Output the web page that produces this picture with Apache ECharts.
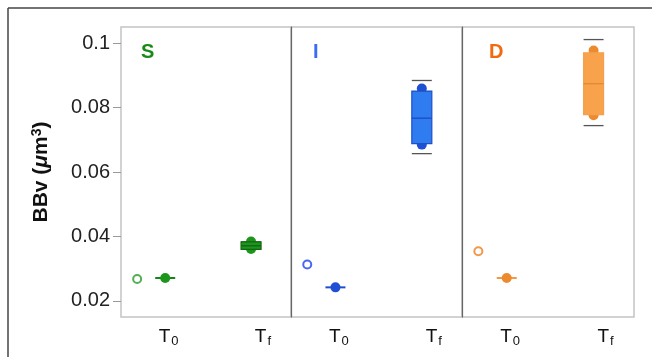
<!DOCTYPE html>
<html>
<head>
<meta charset="utf-8">
<script src="https://cdn.jsdelivr.net/npm/echarts@6/dist/echarts.min.js"></script>
<style>html,body{margin:0;padding:0;background:#fff}#c{width:652px;height:357px}</style>
</head>
<body>
<div id="c"></div>
<script>
// ---- data ----
const panels = ['S', 'I', 'D'];
const xCategories = ['T0', 'Tf'];
const yTicks = [0.02, 0.04, 0.06, 0.08, 0.1];
const openCircleValues = [0.0268, 0.0313, 0.0354];
const t0Values = [0.0271, 0.0242, 0.0271];
// Tf boxes: [low, q1, median, q3, high]
const tfS = [0.0360, 0.0360, 0.0371, 0.0383, 0.0383];
const tfI = [0.0657, 0.0688, 0.0767, 0.0851, 0.0884];
const tfD = [0.0744, 0.0778, 0.0874, 0.0970, 0.1011];
const tfDotsS = [0.0361, 0.0384];
const tfDotsI = [0.0685, 0.0859];
const tfDotsD = [0.0776, 0.0977];

const tfBoxes = [tfS, tfI, tfD];
const tfDots = [tfDotsS, tfDotsI, tfDotsD];

// ---- styles ----
const pal = [
  {label: '#178a17', fill: '#1f921f', border: '#0f6a0f', median: '#0f6a0f', dot: '#1b961b', open: '#2a9a2a', line: '#16861a'},
  {label: '#3c6cf2', fill: '#2f7cf0', border: '#1d4fc6', median: '#1d4fc6', dot: '#1f50d4', open: '#1e3ef0', line: '#1f4fcc'},
  {label: '#f26a10', fill: '#f9a24c', border: '#f2a052', median: '#e38a34', dot: '#ec8b2e', open: '#f07d1e', line: '#ee9a48'}
];
const X_OPEN = 0.095, X_T0 = 0.26, X_TF = 0.765;
const LABEL_POS = [0.28, 0.835];
const grids = [
  {left: 121, width: 170, top: 27, bottom: 40},
  {left: 291, width: 171, top: 27, bottom: 40},
  {left: 462, width: 172, top: 27, bottom: 40}
];
const Y_MIN = 0.015, Y_MAX = 0.105;
const FONT = '"Liberation Sans", Arial, sans-serif';

function renderBox(colors) {
  return function (params, api) {
    const x = api.value(0);
    const lo = api.coord([x, api.value(1)]);
    const q1 = api.coord([x, api.value(2)]);
    const md = api.coord([x, api.value(3)]);
    const q3 = api.coord([x, api.value(4)]);
    const hi = api.coord([x, api.value(5)]);
    const hw = 10;
    const cx = lo[0];
    const collapsed = Math.abs(q1[1] - q3[1]) < 0.5;
    const children = [];
    if (!collapsed) {
      children.push({type: 'line', shape: {x1: cx - hw, y1: lo[1], x2: cx + hw, y2: lo[1]}, style: {stroke: '#555', lineWidth: 1.3}});
      children.push({type: 'line', shape: {x1: cx - hw, y1: hi[1], x2: cx + hw, y2: hi[1]}, style: {stroke: '#555', lineWidth: 1.3}});
      children.push({type: 'rect', shape: {x: cx - hw, y: q3[1], width: 2 * hw, height: q1[1] - q3[1]}, style: {fill: colors.fill, stroke: colors.border, lineWidth: 1.2}});
      children.push({type: 'line', shape: {x1: cx - hw, y1: md[1], x2: cx + hw, y2: md[1]}, style: {stroke: colors.median, lineWidth: 1.4}});
    } else {
      children.push({type: 'line', shape: {x1: cx - hw, y1: md[1], x2: cx + hw, y2: md[1]}, style: {stroke: colors.line, lineWidth: 2}});
    }
    return {type: 'group', children: children};
  };
}

const sub = {t: {fontSize: 19, color: '#111', fontFamily: FONT}, s: {fontSize: 13, color: '#111', fontFamily: FONT, padding: [10, 0, 0, 1]}};

const xAxes = grids.map((g, i) => ({
  gridIndex: i, type: 'value', min: 0, max: 1,
  axisLine: {show: false}, axisTick: {show: false}, splitLine: {show: false},
  axisLabel: {
    customValues: LABEL_POS, margin: 8,
    formatter: v => (Math.abs(v - LABEL_POS[0]) < 0.01 ? '{t|T}{s|0}' : '{t|T}{s|f}'),
    rich: sub
  }
}));

const yAxes = grids.map((g, i) => i === 0 ? {
  gridIndex: 0, type: 'value', min: Y_MIN, max: Y_MAX,
  name: '{b|BBv (}{i|μ}{b|m}{sup|3}{b|)}', nameLocation: 'middle', nameGap: 68, nameRotate: 90,
  nameTextStyle: {
    rich: {
      b: {fontSize: 21, fontWeight: 'bold', color: '#111', fontFamily: FONT},
      i: {fontSize: 21, fontWeight: 'bold', fontStyle: 'italic', color: '#111', fontFamily: FONT},
      sup: {fontSize: 14, fontWeight: 'bold', color: '#111', fontFamily: FONT, padding: [0, 0, 9, 0]}
    }
  },
  axisLine: {show: false},
  axisTick: {show: true, customValues: yTicks, length: 8, lineStyle: {color: '#999', width: 1}},
  axisLabel: {customValues: yTicks, fontSize: 20, color: '#222', margin: 11, fontFamily: FONT},
  splitLine: {show: false}
} : {
  gridIndex: i, type: 'value', min: Y_MIN, max: Y_MAX,
  axisLine: {show: true, lineStyle: {color: '#666', width: 1.2}},
  axisTick: {show: false}, axisLabel: {show: false}, splitLine: {show: false}
});

const series = [];
panels.forEach((p, i) => {
  const c = pal[i];
  series.push({
    type: 'scatter', xAxisIndex: i, yAxisIndex: i, symbol: 'emptyCircle', symbolSize: 8,
    itemStyle: {color: c.open, borderColor: c.open, borderWidth: 2},
    data: [[X_OPEN, openCircleValues[i]]], z: 3
  });
  series.push({
    type: 'scatter', xAxisIndex: i, yAxisIndex: i, symbol: 'circle', symbolSize: 10,
    itemStyle: {color: c.dot, opacity: 1},
    data: tfDots[i].map(v => [X_TF, v]), z: 2
  });
  series.push({
    type: 'custom', xAxisIndex: i, yAxisIndex: i, renderItem: renderBox(c), z: 3,
    data: [[X_T0, t0Values[i], t0Values[i], t0Values[i], t0Values[i], t0Values[i]], [X_TF].concat(tfBoxes[i])]
  });
  series.push({
    type: 'scatter', xAxisIndex: i, yAxisIndex: i, symbol: 'circle', symbolSize: 10,
    itemStyle: {color: c.dot, opacity: 1},
    data: [[X_T0, t0Values[i]]], z: 4
  });
});

const chart = echarts.init(document.getElementById('c'), null, {renderer: 'canvas'});
chart.setOption({
  animation: false,
  backgroundColor: '#fff',
  grid: grids.map(g => Object.assign({show: true, borderColor: '#c4c4c4', borderWidth: 1.5, backgroundColor: 'transparent'}, g)),
  xAxis: xAxes,
  yAxis: yAxes,
  series: series,
  graphic: [
    {type: 'line', shape: {x1: 8, y1: 8, x2: 652, y2: 8}, style: {stroke: '#444', lineWidth: 1.5}, silent: true},
    {type: 'line', shape: {x1: 8, y1: 8, x2: 8, y2: 357}, style: {stroke: '#444', lineWidth: 1.5}, silent: true},
    {type: 'text', left: 141, top: 42, style: {text: panels[0], fill: pal[0].label, font: 'bold 20px ' + FONT}},
    {type: 'text', left: 313, top: 42, style: {text: panels[1], fill: pal[1].label, font: 'bold 20px ' + FONT}},
    {type: 'text', left: 489, top: 42, style: {text: panels[2], fill: pal[2].label, font: 'bold 20px ' + FONT}}
  ]
});
</script>
</body>
</html>
